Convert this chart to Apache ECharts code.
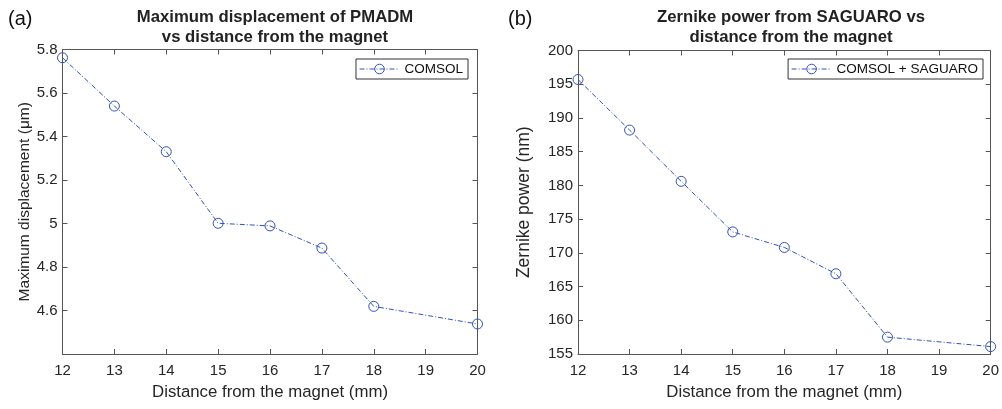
<!DOCTYPE html>
<html><head><meta charset="utf-8">
<script src="https://cdn.jsdelivr.net/npm/echarts@6/dist/echarts.min.js"></script>
<style>html,body{margin:0;padding:0;background:#fff}#c{width:1002px;height:409px}</style>
</head><body><div id="c"></div>
<script>
const distances = [12, 13, 14, 15, 16, 17, 18, 20];
const displacement = [5.762, 5.540, 5.330, 5.001, 4.989, 4.887, 4.619, 4.538];
const zernikePower = [195.7, 188.2, 180.6, 173.1, 170.8, 166.9, 157.5, 156.1];
const xTicks = {min: 12, max: 20, interval: 1};
const yTicksA = {min: 4.4, max: 5.8, interval: 0.2};
const yTicksB = {min: 155, max: 200, interval: 5};
const titleA = 'Maximum displacement of PMADM\nvs distance from the magnet';
const titleB = 'Zernike power from SAGUARO vs\ndistance from the magnet';
const legendA = 'COMSOL';
const legendB = 'COMSOL + SAGUARO';
const xName = 'Distance from the magnet (mm)';
const yNameA = 'Maximum displacement (μm)';
const yNameB = 'Zernike power (nm)';

const FONT = 'Liberation Sans, Arial, Helvetica, sans-serif';
const AX = '#262626';
const LINE = '#3452b4';
const chart = echarts.init(document.getElementById('c'), null, {renderer: 'canvas'});

function xAxes(gi) {
  const base = {type: 'value', gridIndex: gi, min: xTicks.min, max: xTicks.max, interval: xTicks.interval,
    axisLine: {lineStyle: {color: '#555', width: 1}}, splitLine: {show: false},
    axisTick: {inside: true, length: 5, lineStyle: {color: '#555'}}};
  return [
    Object.assign({}, base, {position: 'bottom', name: xName, nameLocation: 'middle', nameGap: 30,
      nameTextStyle: {fontFamily: FONT, fontSize: 16.8, color: AX},
      axisLabel: {fontFamily: FONT, fontSize: 15, color: AX, margin: 9}}),
    Object.assign({}, base, {position: 'top', axisLabel: {show: false}})
  ];
}
function yAxes(gi, t, name, gap, nameSize, fmt) {
  const base = {type: 'value', gridIndex: gi, min: t.min, max: t.max, interval: t.interval,
    axisLine: {show: true, lineStyle: {color: '#555', width: 1}}, splitLine: {show: false},
    axisTick: {show: true, inside: true, length: 5, lineStyle: {color: '#555'}}};
  return [
    Object.assign({}, base, {position: 'left', name: name, nameLocation: 'middle', nameGap: gap,
      nameTextStyle: {fontFamily: FONT, fontSize: nameSize, color: AX},
      axisLabel: {fontFamily: FONT, fontSize: 15, color: AX, margin: 5, formatter: fmt}}),
    Object.assign({}, base, {position: 'right', axisLabel: {show: false}})
  ];
}
function series(name, data, xi, yi) {
  return {name: name, type: 'line', xAxisIndex: xi, yAxisIndex: yi,
    data: distances.map((d, i) => [d, data[i]]),
    symbol: 'circle', symbolSize: 10, showAllSymbol: true,
    itemStyle: {color: 'transparent', borderColor: LINE, borderWidth: 1},
    lineStyle: {color: LINE, width: 1, type: [5, 2, 1, 2]},
    emphasis: {disabled: true}, animation: false};
}
const legendBase = {orient: 'horizontal', itemWidth: 40, itemHeight: 12, itemGap: 4,
  borderColor: '#333', borderWidth: 1, borderRadius: 0, padding: [3, 5, 3, 3],
  textStyle: {fontFamily: FONT, fontSize: 13.5, color: '#111'}, selectedMode: false,
  itemStyle: {color: 'transparent', borderColor: LINE, borderWidth: 1},
  lineStyle: {color: LINE, width: 1, type: [5, 2, 1, 2]},
  backgroundColor: '#fff'};

chart.setOption({
  animation: false,
  backgroundColor: '#fff',
  title: [
    {text: titleA, left: 270, top: 2, textAlign: 'center',
      textStyle: {fontFamily: FONT, fontSize: 16.7, fontWeight: 'bold', color: '#222', lineHeight: 20}},
    {text: titleB, left: 786, top: 2, textAlign: 'center',
      textStyle: {fontFamily: FONT, fontSize: 16.7, fontWeight: 'bold', color: '#222', lineHeight: 20}},
    {text: '(a)', left: 3, top: 4, textStyle: {fontFamily: FONT, fontSize: 20, fontWeight: 'normal', color: '#111'}},
    {text: '(b)', left: 503, top: 4, textStyle: {fontFamily: FONT, fontSize: 20, fontWeight: 'normal', color: '#111'}}
  ],
  legend: [
    Object.assign({}, legendBase, {data: [legendA], right: 1002 - 468, top: 59}),
    Object.assign({}, legendBase, {data: [legendB], right: 1002 - 983, top: 59})
  ],
  grid: [
    {left: 62.5, right: 1002 - 477.5, top: 49.5, bottom: 55},
    {left: 578, right: 1002 - 993.5, top: 50.5, bottom: 55}
  ],
  xAxis: xAxes(0).concat(xAxes(1)),
  yAxis: yAxes(0, yTicksA, yNameA, 30, 15.5, v => (Math.abs(v - 4.4) < 1e-6 ? '' : String(+v.toFixed(1))))
    .concat(yAxes(1, yTicksB, yNameB, 45, 17.5, v => String(v))),
  series: [
    series(legendA, displacement, 0, 0),
    series(legendB, zernikePower, 2, 2)
  ]
});
</script></body></html>
